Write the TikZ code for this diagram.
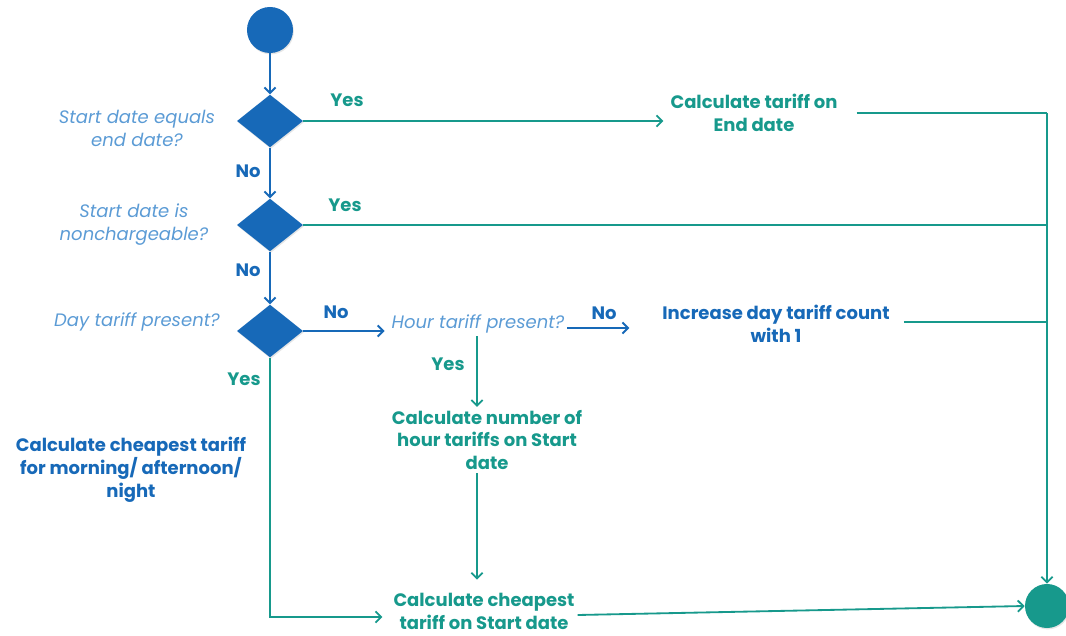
\documentclass[tikz,border=0pt]{standalone}
\usepackage{fontspec}
\setmainfont{Poppins}
\usetikzlibrary{arrows.meta, shapes.geometric, shadows, calc, positioning}

\definecolor{flowblue}{HTML}{1769B8}
\definecolor{flowteal}{HTML}{17998C}
\definecolor{flowlight}{HTML}{5B9BD5}

\tikzset{
    decision/.style={diamond, fill=flowblue, minimum width=1.65cm, minimum height=1.32cm, inner sep=0pt,
        drop shadow={opacity=0.2, shadow xshift=0.6pt, shadow yshift=-1pt}},
    question/.style={font=\fontsize{12.8}{16.3}\selectfont\itshape, text=flowlight, align=center, inner sep=2pt},
    action/.style={font=\fontsize{12.8}{16.3}\selectfont\bfseries, align=center, inner sep=2pt},
    answer/.style={font=\fontsize{12.8}{14}\selectfont\bfseries},
    flow/.style={line width=1.3pt, -{Straight Barb[length=4pt, width=8pt, line width=1.3pt]}},
    rail/.style={line width=1.3pt, color=flowteal}
}

\begin{document}
\begin{tikzpicture}[x=0.025cm, y=-0.025cm]
    \useasboundingbox (0, 0) rectangle (1066, 636);

    \node[circle, fill=flowblue, minimum size=1.15cm, inner sep=0pt,
        drop shadow={opacity=0.2, shadow xshift=0.6pt, shadow yshift=-1pt}] (start) at (270, 30) {};
    \node[circle, fill=flowteal, minimum size=1.1cm, inner sep=0pt,
        drop shadow={opacity=0.2, shadow xshift=0.6pt, shadow yshift=-1pt}] (stop) at (1047, 606) {};

    \node[decision] (d1) at (270, 121) {};
    \node[decision] (d2) at (270, 225) {};
    \node[decision] (d3) at (270, 331) {};

    \node[question] (q1) at (137, 128) {Start date equals\\end date?};
    \node[question] (q2) at (134, 225) {Start date is\\nonchargeable?};
    \node[question] (q3) at (137, 322) {Day tariff present?};
    \node[question] (q4) at (478, 324) {Hour tariff present?};

    \node[action, text=flowteal] (enddate) at (754, 113) {Calculate tariff on\\End date};
    \node[action, text=flowblue] (incr) at (776, 324) {Increase day tariff count\\with 1};
    \node[action, text=flowteal] (hours) at (487, 440) {Calculate number of\\hour tariffs on Start\\date};
    \node[action, text=flowteal] (cheap) at (484, 611) {Calculate cheapest\\tariff on Start date};
    \node[action, text=flowblue] (daypart) at (131, 470) {Calculate cheapest tariff\\for morning/ afternoon/\\night};

    \coordinate (hx) at (477, 0);
    \coordinate (j1) at (1047, 113);
    \coordinate (j2) at (1047, 225);
    \coordinate (j3) at (1047, 322);

    \node[answer, text=flowteal] (y1) at (347, 100) {Yes};
    \node[answer, text=flowteal] (y2) at (345, 205) {Yes};
    \node[answer, text=flowteal] (y3) at (244, 379) {Yes};
    \node[answer, text=flowteal] (y4) at (448, 364) {Yes};
    \node[answer, text=flowblue] (n1) at (248, 171) {No};
    \node[answer, text=flowblue] (n2) at (248, 270) {No};
    \node[answer, text=flowblue] (n3) at (336, 312) {No};
    \node[answer, text=flowblue] (n4) at (604, 313) {No};

    \draw[flow, flowblue]
    (start) edge (d1)
    (d1) edge (d2)
    (d2) edge (d3);
    \draw[flow, flowblue] (d3.east) -- ([xshift=-0.1cm]d3.east -| q4.west);
    \draw[flow, flowblue] ([yshift=-0.1cm]q4.east) -- ([xshift=-0.75cm, yshift=-0.1cm]q4.east -| incr.west);

    \draw[flow, flowteal] (d1.east) -- ([xshift=-0.1cm]d1.east -| enddate.west);
    \draw[flow, flowteal] (q4.south -| hx) -- (hours.north -| hx);
    \draw[flow, flowteal] (hours.south -| hx) -- ([yshift=0.25cm]cheap.north -| hx);
    \draw[flow, flowteal] (d3.south) -- ($(d3.south |- cheap.west) + (0, 6)$) -- ($(cheap.west) + (-8, 6)$);
    \draw[flow, flowteal] ([yshift=-0.1cm]cheap.east) -- (stop.west);
    \draw[flow, flowteal] (j1) -- (stop.north);

    \draw[rail] ([xshift=0.4cm]enddate.east |- j1) -- (j1);
    \draw[rail] (d2.east) -- (j2);
    \draw[rail] ([xshift=0.28cm]incr.east |- j3) -- (j3);
\end{tikzpicture}
\end{document}
